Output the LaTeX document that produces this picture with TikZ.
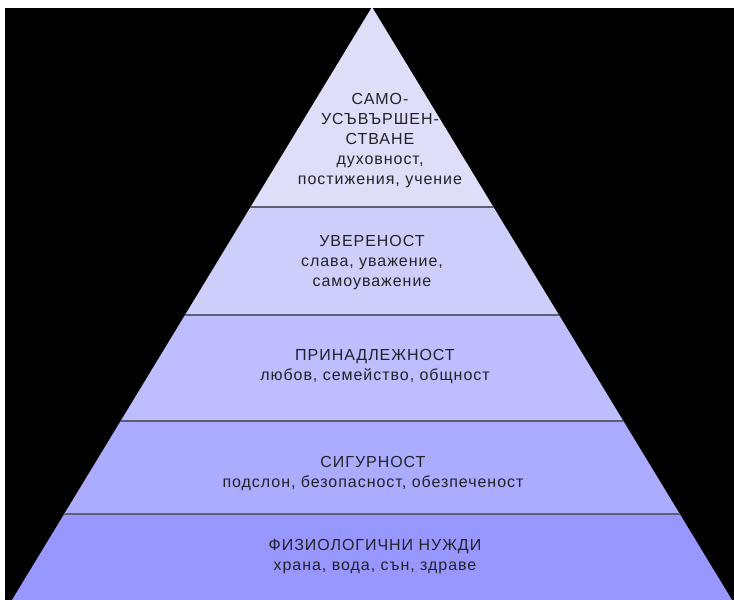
\documentclass[tikz,border=0pt]{standalone}
\usepackage{fontspec}
\setmainfont{Liberation Sans}[LetterSpace=6]
\definecolor{bandA}{RGB}{222,222,249}
\definecolor{bandB}{RGB}{206,206,251}
\definecolor{bandC}{RGB}{189,189,255}
\definecolor{bandD}{RGB}{171,171,255}
\definecolor{bandE}{RGB}{151,151,255}
\definecolor{sepline}{RGB}{95,95,115}
\definecolor{txt}{RGB}{34,34,40}
\begin{document}
\begin{tikzpicture}[x=1pt,y=-1pt,
  lbl/.style={text=txt,align=center,inner sep=0pt,
    font=\fontsize{16}{20}\selectfont},
  sep/.style={draw=sepline,line width=1.6pt}]
\useasboundingbox (0,0) rectangle (734,600);
\fill[white] (0,0) rectangle (734,600);
\fill[black] (5,8) rectangle (734,600);
\begin{scope}
\clip (372,7) -- (732,600) -- (12,600) -- cycle;
\fill[bandA] (0,0) rectangle (734,207);
\fill[bandB] (0,207) rectangle (734,315);
\fill[bandC] (0,315) rectangle (734,421);
\fill[bandD] (0,421) rectangle (734,514);
\fill[bandE] (0,514) rectangle (734,600);
\draw[sep] (0,207) -- (734,207);
\draw[sep] (0,315) -- (734,315);
\draw[sep] (0,421) -- (734,421);
\draw[sep] (0,514) -- (734,514);
\end{scope}
\node[lbl] (t1) at (380,141) {САМО-\\УСЪВЪРШЕН-\\СТВАНЕ\\духовност,\\постижения, учение};
\node[lbl] (t2) at (372,263) {УВЕРЕНОСТ\\слава, уважение,\\самоуважение};
\node[lbl] (t3) at (375,367) {ПРИНАДЛЕЖНОСТ\\любов, семейство, общност};
\node[lbl] (t4) at (373,474) {СИГУРНОСТ\\подслон, безопасност, обезпеченост};
\node[lbl] (t5) at (375,557) {ФИЗИОЛОГИЧНИ НУЖДИ\\храна, вода, сън, здраве};
\end{tikzpicture}
\end{document}
